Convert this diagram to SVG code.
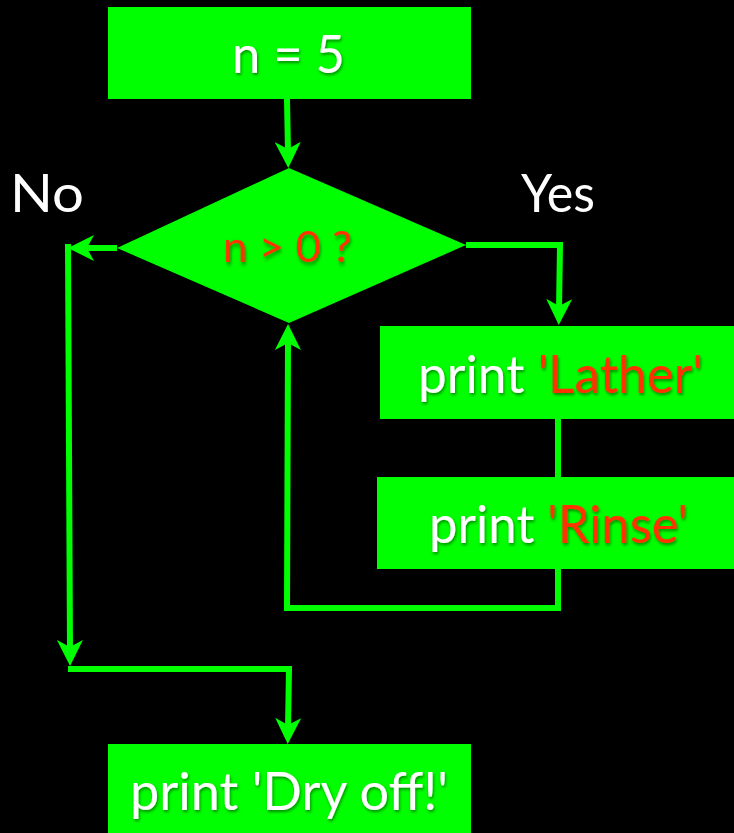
<svg xmlns="http://www.w3.org/2000/svg" width="734" height="833" viewBox="0 0 734 833">
<defs>
<style>
.box{fill:#00ff00}
.lbl{font-family:"Lato","Open Sans","Liberation Sans",sans-serif;fill:#ffffff}
.in{filter:url(#sh)}
.red{fill:#ff3300}
.conn{fill:none;stroke:#00ff00;stroke-width:6;stroke-linejoin:miter}
</style>
<filter id="sh" x="-10%" y="-30%" width="120%" height="160%">
<feDropShadow dx="1" dy="2" stdDeviation="1.5" flood-color="#000" flood-opacity="0.45"/>
</filter>
<marker id="ah" viewBox="0 0 26 26" refX="11" refY="13" markerWidth="26" markerHeight="26" markerUnits="userSpaceOnUse" orient="auto">
<path d="M0,0 L26,13 L0,26 L7,13 z" fill="#00ff00"/>
</marker>
</defs>
<rect width="734" height="833" fill="#000"/>
<g id="connectors">
<path class="conn" d="M287,99 L288,153" marker-end="url(#ah)"/>
<path class="conn" d="M117,248 L83,248" marker-end="url(#ah)"/>
<path class="conn" d="M68,244 L70,651" marker-end="url(#ah)"/>
<path class="conn" d="M68,669 L289,669 L288,729" marker-end="url(#ah)"/>
<path class="conn" d="M466,245 L560,245 L559,310" marker-end="url(#ah)"/>
<path class="conn" d="M558,419 L558,477"/>
<path class="conn" d="M558,569 L558,608 L287,608 L288,339" marker-end="url(#ah)"/>
</g>
<g id="start">
<rect class="box" x="108" y="7" width="363" height="92"/>
<text class="lbl in" x="232" y="73" font-size="52" textLength="113" lengthAdjust="spacingAndGlyphs">n = 5</text>
</g>
<g id="decision">
<polygon class="box" points="289,168 466,245 289,323 117,248"/>
<text class="lbl in red" x="223" y="0" font-size="32" textLength="129" lengthAdjust="spacingAndGlyphs" transform="translate(0,262) scale(1,1.3)">n &gt; 0 ?</text>
</g>
<g id="lather">
<rect class="box" x="380" y="326" width="354" height="93"/>
<text class="lbl in" x="418" y="393" font-size="52" textLength="285" lengthAdjust="spacingAndGlyphs">print <tspan class="red">'Lather'</tspan></text>
</g>
<g id="rinse">
<rect class="box" x="377" y="477" width="357" height="92"/>
<text class="lbl in" x="429" y="543" font-size="52" textLength="259" lengthAdjust="spacingAndGlyphs">print <tspan class="red">'Rinse'</tspan></text>
</g>
<g id="dryoff">
<rect class="box" x="108" y="744" width="363" height="89"/>
<text class="lbl in" x="130" y="810" font-size="52" textLength="318" lengthAdjust="spacingAndGlyphs">print 'Dry off!'</text>
</g>
<g id="labels">
<text class="lbl" x="10" y="212" font-size="52" textLength="74" lengthAdjust="spacingAndGlyphs">No</text>
<text class="lbl" x="521" y="212" font-size="52" textLength="74" lengthAdjust="spacingAndGlyphs">Yes</text>
</g>
</svg>
